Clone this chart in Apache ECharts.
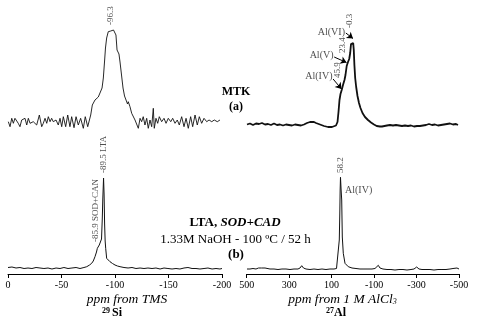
<!DOCTYPE html>
<html>
<head>
<meta charset="utf-8">
<script src="https://cdn.jsdelivr.net/npm/echarts@6/dist/echarts.min.js"></script>
<style>html,body{margin:0;padding:0;background:#fff}#chart{width:487px;height:324px}</style>
</head>
<body>
<div id="chart"></div>
<script>
// 29Si MAS NMR of MTK: [ppm, intensity]
var siMtk = [[-0.3,8.3],[-1.9,3.3],[-3.5,11.7],[-5.0,6.7],[-6.5,11.7],[-8.1,13.3],[-9.6,6.7],[-11.2,3.3],[-12.8,10],[-14.3,8.3],[-15.9,11.7],[-17.5,5],[-19.0,11.7],[-20.6,6.7],[-23.6,8.3],[-25.2,10],[-26.8,5],[-29.3,15],[-31.5,3.3],[-33.0,6.7],[-34.6,11.7],[-36.2,6.7],[-37.7,13.3],[-39.3,8.3],[-40.8,11.7],[-42.3,8.3],[-44.9,10],[-47.0,5],[-48.6,11.7],[-50.2,3.3],[-51.7,13.3],[-53.9,3.3],[-55.8,15],[-57.9,3.3],[-59.5,13.3],[-61.7,2.3],[-63.6,13.3],[-65.7,5],[-67.9,11.7],[-70.4,1.7],[-72.2,13.3],[-74.5,3.3],[-76.0,5],[-77.3,15],[-78.8,25],[-81.3,30],[-82.9,31.7],[-84.4,33],[-86.0,34],[-87.9,42],[-89.1,52],[-90.2,68],[-91.1,82],[-92.2,92],[-93.7,98.3],[-94.9,100],[-96.0,99],[-96.9,100.5],[-97.7,98],[-98.6,100],[-100.0,99],[-100.9,95],[-101.9,80],[-102.8,78],[-103.7,76],[-104.7,68],[-106.1,55],[-107.5,42],[-108.9,34],[-110.3,30],[-111.7,26],[-112.4,28.3],[-114.0,23.3],[-115.6,16.7],[-117.1,15],[-118.7,10],[-120.3,11.7],[-121.8,1.7],[-123.4,11.7],[-124.9,8.3],[-126.4,13.3],[-128.0,5],[-129.6,11.7],[-131.1,1.7],[-132.7,10],[-134.3,3.3],[-135.8,21.7],[-136.7,1.7],[-138.3,11.7],[-139.9,6.7],[-141.4,13.3],[-143.6,8.3],[-145.8,11.7],[-147.7,6.7],[-149.8,11.7],[-152.1,8.3],[-153.9,11.7],[-156.1,6.7],[-158.2,10],[-160.1,5],[-162.3,13.3],[-164.5,3.3],[-166.4,11.7],[-168.5,1.7],[-170.7,13.3],[-172.6,3.3],[-174.8,15],[-176.9,5],[-178.8,13.3],[-181.0,6.7],[-183.2,11.7],[-185.7,8.3],[-187.9,10],[-190.4,8.3],[-192.8,10],[-195.6,8.3],[-198.1,10]];

// 27Al MAS NMR of MTK
var alMtk = [[498.6,5.5],[484.5,6.5],[470.3,5],[456.2,6.5],[442.1,6],[428.0,7],[413.8,5.5],[399.7,6],[385.6,5],[371.4,6.5],[357.3,5],[343.2,5.5],[329.0,4.5],[314.9,5.5],[300.8,5],[286.7,4.5],[272.5,5.5],[258.4,5],[244.3,4.5],[230.1,5.5],[216.0,7],[201.9,8],[192.5,8.5],[183.1,8],[173.6,7],[164.2,6],[154.8,5.5],[145.4,4.5],[135.9,4],[126.5,3.5],[117.1,3],[107.7,3.5],[98.2,3],[88.8,4],[79.4,4.5],[72.3,8],[67.6,18],[62.9,30],[58.2,36],[52.5,40],[46.4,45],[39.4,50],[34.7,55],[29.0,64],[22.9,68],[17.2,71],[12.5,77],[8.7,86],[5.0,87],[1.7,84],[-1.6,87],[-4.4,80],[-7.3,65],[-11.0,52],[-15.7,43],[-21.9,34],[-28.9,27],[-36.0,22],[-45.4,17],[-57.2,13],[-71.3,10],[-85.5,7.5],[-99.6,5.5],[-112.3,4],[-119.8,3],[-127.8,3.5],[-137.3,3.5],[-146.7,4],[-160.8,4.5],[-175.0,5],[-189.1,4.5],[-203.2,5],[-217.3,4.5],[-231.5,4],[-245.6,4.5],[-259.7,4],[-273.9,4.5],[-288.0,3.5],[-302.1,4],[-316.3,4],[-330.4,4.5],[-344.5,5],[-358.6,6],[-372.8,5],[-386.9,5.5],[-401.0,4.5],[-415.2,5],[-429.3,5.5],[-443.4,6],[-457.6,6.5],[-471.7,5.5],[-485.8,6],[-495.2,5]];

// 29Si of LTA, SOD+CAD
var siLta = [[0,6.5],[-3.7,7],[-7.5,6],[-11.2,6.5],[-15.0,5.5],[-18.7,6],[-22.4,5.5],[-26.2,6.5],[-29.9,6],[-33.6,5.5],[-37.4,6],[-41.1,5],[-44.9,6],[-48.6,5.5],[-52.3,6.5],[-56.1,5.5],[-59.8,6],[-63.6,6.5],[-67.3,5.5],[-71.0,6.5],[-73.6,7.3],[-76.2,9],[-78.2,10.7],[-79.7,13],[-81.3,17.3],[-82.7,22],[-83.5,25.7],[-84.6,27.5],[-85.3,29],[-86.4,31],[-87.4,35],[-88.1,55],[-88.6,75],[-89.3,96],[-89.8,80],[-90.3,50],[-90.8,33],[-91.3,25.7],[-92.2,15.7],[-93.5,14],[-95.3,12.3],[-97.7,10.5],[-100.0,9],[-102.3,8],[-104.7,7.3],[-108.4,6.5],[-112.2,6],[-115.9,6.5],[-119.6,5.5],[-123.4,6],[-127.1,5.5],[-130.8,6],[-134.6,5.5],[-138.3,6],[-142.1,5],[-145.8,6],[-149.5,5.5],[-153.3,5],[-157.0,5.5],[-160.7,5],[-164.5,6],[-168.2,6.5],[-172.0,5.5],[-175.7,5.5],[-179.4,5],[-183.2,5.5],[-186.9,6],[-190.7,5],[-194.4,5.5],[-198.1,5],[-200,5.5]];

// 27Al of LTA, SOD+CAD
var alLta = [[498.6,5],[484.5,5],[470.3,5.5],[456.2,5],[444.4,6],[436,5],[430.3,6],[421.8,7.5],[413.8,6],[404.4,5],[390.3,5],[371.4,5],[352.6,4.5],[333.8,5],[314.9,5],[296.1,4.5],[277.2,5],[258.4,5],[248.9,6],[240.9,8.3],[232.5,6],[220.7,5],[201.9,4.5],[183.1,5],[164.2,4.5],[145.4,5],[126.5,4.5],[107.7,5],[88.8,5],[77.0,5.5],[68.6,7.3],[63.9,34],[61.5,60],[59.8,84],[58.2,96.7],[55.5,85],[52.5,74],[49.7,37],[45.0,20.7],[37.0,10.7],[21.5,7.3],[4.0,6],[-14.8,5.5],[-33.6,5],[-52.5,5],[-71.3,5],[-90.2,5],[-104.3,5.5],[-113.7,7],[-119.8,8.7],[-127.8,6],[-141.9,5],[-160.8,4.5],[-179.6,4.5],[-198.5,4],[-217.3,4.5],[-236.2,4.5],[-255.0,4],[-273.9,4.5],[-288.0,5],[-300.7,7],[-311.5,5],[-325.7,4.5],[-344.5,4.5],[-363.3,4.5],[-382.2,4],[-401.0,4.5],[-419.8,4.5],[-438.7,4.5],[-457.5,5],[-471.7,5.5],[-481.1,7.3],[-490.5,6],[-500,5]];

// peak labels [ppm, height, text]
var siMtkPeaks = [[-96.3, 105, '-96.3']];
var alMtkPeaks = [[16.7, 102, '-0.3'], [47.8, 77, '23.4'], [70, 52, '45.9']];
var alMtkSites = [[37, 98, 'Al(VI)'], [91, 75, 'Al(V)'], [96, 54, 'Al(IV)']];
var alMtkArrows = [[[33, 97], [-0.7, 91.5]], [[88, 73], [30, 67.5]], [[93, 51], [53.5, 41]]];
var siLtaPeaks = [[-89.5, 101, '-89.5 LTA'], [-82, 32, '-85.9 SOD+CAN']];
var alLtaPeaks = [[58.2, 101, '58.2']];
var alLtaSites = [[37, 84, 'Al(IV)']];

var FONT = 'Liberation Serif';
var chart = echarts.init(document.getElementById('chart'));

function spectrum(data, idx, width) {
    return {
        type: 'line', xAxisIndex: idx, yAxisIndex: idx, data: data,
        symbol: 'none', lineStyle: { color: '#111', width: width }, silent: true
    };
}
function labels(list, idx, rot, align, size) {
    return {
        type: 'scatter', xAxisIndex: idx, yAxisIndex: idx, symbolSize: 0, silent: true,
        data: list,
        label: {
            show: true, position: [0, 0], rotate: rot, align: align, verticalAlign: 'middle',
            fontFamily: FONT, fontSize: size, color: '#222',
            formatter: function (p) { return p.value[2]; }
        }
    };
}
function xAx(idx, min, max, interval, show) {
    return {
        type: 'value', gridIndex: idx, min: min, max: max, interval: interval, inverse: true,
        show: show, splitLine: { show: false },
        axisLine: { lineStyle: { color: '#000', width: 1 } },
        axisTick: { inside: false, length: 4, lineStyle: { color: '#000' } },
        axisLabel: { fontFamily: FONT, fontSize: 10, color: '#000', margin: 6 }
    };
}
function yAx(idx) {
    return { type: 'value', gridIndex: idx, min: 0, max: 130, show: false };
}

var alMtkSeries = spectrum(alMtk, 1, 1.8);
alMtkSeries.markLine = {
    silent: true, symbol: ['none', 'arrow'], symbolSize: 6,
    lineStyle: { color: '#000', width: 1, type: 'solid' }, label: { show: false },
    data: alMtkArrows.map(function (a) { return [{ coord: a[0] }, { coord: a[1] }]; })
};

chart.setOption({
    animation: false,
    grid: [
        { left: 8, width: 214, top: 0, height: 130 },
        { left: 246.7, width: 212.3, top: 0, height: 130 },
        { left: 8, width: 214, top: 144, height: 130 },
        { left: 246.7, width: 212.3, top: 144, height: 130 }
    ],
    xAxis: [
        xAx(0, -200, 0, 50, false),
        xAx(1, -500, 500, 200, false),
        xAx(2, -200, 0, 50, true),
        xAx(3, -500, 500, 200, true)
    ],
    yAxis: [yAx(0), yAx(1), yAx(2), yAx(3)],
    series: [
        spectrum(siMtk, 0, 0.9),
        alMtkSeries,
        spectrum(siLta, 2, 1),
        spectrum(alLta, 3, 1),
        labels(siMtkPeaks, 0, 90, 'left', 9),
        labels(alMtkPeaks, 1, 90, 'left', 9),
        labels(alMtkSites, 1, 0, 'right', 10),
        labels(siLtaPeaks, 2, 90, 'left', 9),
        labels(alLtaPeaks, 3, 90, 'left', 9),
        labels(alLtaSites, 3, 0, 'left', 10)
    ],
    graphic: [
        { type: 'text', x: 236, y: 92, style: { text: 'MTK', font: 'bold 12px ' + FONT, fill: '#000', align: 'center', verticalAlign: 'middle' } },
        { type: 'text', x: 236, y: 107, style: { text: '(a)', font: 'bold 12px ' + FONT, fill: '#000', align: 'center', verticalAlign: 'middle' } },
        { type: 'text', x: 235, y: 223, style: {
            text: '{b|LTA, }{bi|SOD+CAD}', align: 'center', verticalAlign: 'middle',
            rich: {
                b: { fontFamily: FONT, fontWeight: 'bold', fontSize: 13, fill: '#000' },
                bi: { fontFamily: FONT, fontWeight: 'bold', fontStyle: 'italic', fontSize: 13, fill: '#000' }
            } } },
        { type: 'text', x: 235.5, y: 240, style: { text: '1.33M NaOH - 100 ºC / 52 h', font: '13px ' + FONT, fill: '#000', align: 'center', verticalAlign: 'middle' } },
        { type: 'text', x: 236, y: 255, style: { text: '(b)', font: 'bold 13px ' + FONT, fill: '#000', align: 'center', verticalAlign: 'middle' } },
        { type: 'text', x: 127, y: 299, style: { text: 'ppm from TMS', font: 'italic 13.5px ' + FONT, fill: '#000', align: 'center', verticalAlign: 'middle' } },
        { type: 'text', x: 112, y: 313, style: {
            text: '{s|29}{m|Si}', align: 'center', verticalAlign: 'middle',
            rich: {
                s: { fontFamily: FONT, fontWeight: 'bold', fontSize: 8, fill: '#000', verticalAlign: 'top' },
                m: { fontFamily: FONT, fontWeight: 'bold', fontSize: 12, fill: '#000', padding: [0, 0, 0, 2] }
            } } },
        { type: 'text', x: 342.5, y: 299, style: {
            text: '{i|ppm from 1 M AlCl}{sub|3}', align: 'center', verticalAlign: 'middle',
            rich: {
                i: { fontFamily: FONT, fontStyle: 'italic', fontSize: 13.5, fill: '#000' },
                sub: { fontFamily: FONT, fontStyle: 'italic', fontSize: 8, fill: '#000', verticalAlign: 'bottom' }
            } } },
        { type: 'text', x: 336, y: 313, style: {
            text: '{s|27}{m|Al}', align: 'center', verticalAlign: 'middle',
            rich: {
                s: { fontFamily: FONT, fontWeight: 'bold', fontSize: 8, fill: '#000', verticalAlign: 'top' },
                m: { fontFamily: FONT, fontWeight: 'bold', fontSize: 12, fill: '#000' }
            } } }
    ]
});
</script>
</body>
</html>
